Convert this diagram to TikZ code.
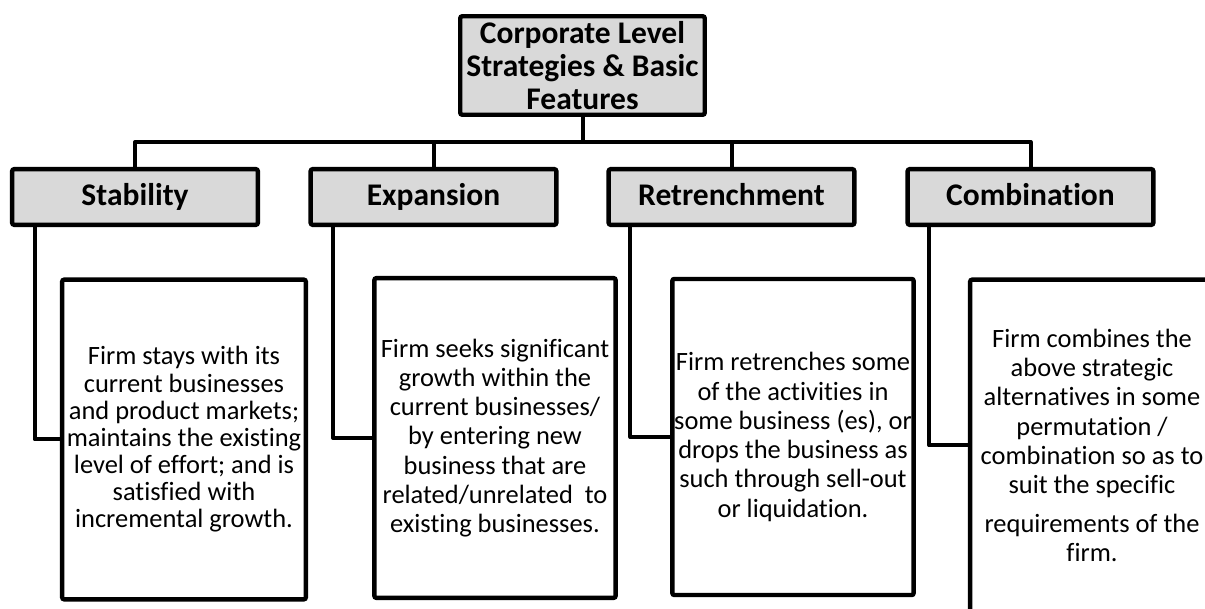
\documentclass[tikz,border=0pt]{standalone}
\usepackage{fontspec}
\setmainfont{Carlito}[Ligatures={NoCommon,NoContextual}]
\usepackage{tikz}
\usepackage{color}

\begin{document}
\begin{tikzpicture}[x=0.025cm,y=-0.025cm]
\definecolor{cb}{rgb}{0.0,0.0,0.0}
\definecolor{cfh}{rgb}{0.851,0.851,0.851}
\definecolor{cfd}{rgb}{1.0,1.0,1.0}
\definecolor{clh}{rgb}{0.0,0.0,0.0}
\tikzset{
  tbox/.style={draw=cb,fill=cfh,text=clh,line width=0.11cm,rounded corners=0.05cm,minimum width=6.11cm,minimum height=2.46cm,font=\fontsize{22.4}{23.6}\selectfont\bfseries,align=center,inner sep=0pt},
  hbox/.style={tbox,minimum width=6.14cm,minimum height=1.39cm,text height=0.56cm,text depth=0.11cm},
  dbox/.style={draw=cb,fill=cfd,text=clh,line width=0.11cm,rounded corners=0.05cm,minimum width=6.09cm,minimum height=7.99cm,font=\fontsize{18.8}{20.8}\selectfont,align=center,inner sep=0pt},
  link/.style={draw=cb,line width=0.1cm,line join=round},
}
%
\useasboundingbox (0,0) rectangle (1205,609);
\clip (0,0) rectangle (1205,609);
%
\node[tbox] (top) at (582.5,65.5) {Corporate Level\\Strategies \& Basic\\Features};
\node[hbox] (stab) at (135,197) {Stability};
\node[hbox] (expa) at (433.5,197) {Expansion};
\node[hbox] (retr) at (731.5,197) {Retrenchment};
\node[hbox] (comb) at (1030.5,197) {Combination};
%
\node[dbox,font=\fontsize{18.8}{19.3}\selectfont] (stabd) at (184,439.5) {Firm stays with its\\current businesses\\and product markets;\\maintains the existing\\level of effort; and is\\satisfied with\\incremental growth.};
\node[dbox,minimum width=6.03cm] (expad) at (495,438) {Firm seeks significant\\growth within the\\current businesses/\\by entering new\\business that are\\related/unrelated~ to\\existing businesses.};
\node[dbox,minimum width=6.03cm,minimum height=7.9cm] (retrd) at (793,437) {Firm retrenches some\\of the activities in\\some business (es), or\\drops the business as\\such through sell-out\\or liquidation.};
\node[dbox,minimum height=8.29cm] (combd) at (1092,445.5) {Firm combines the\\above strategic\\alternatives in some\\permutation /\\combination so as to\\suit the specific\\[7pt]requirements of the\\firm.};
%
\coordinate (bus) at (0,142);
\draw[link] (top.south) -- (top.south |- bus);
\draw[link] (stab.north) |- (comb.north |- bus) -- (comb.north);
\draw[link] (expa.north) -- (expa.north |- bus);
\draw[link] (retr.north) -- (retr.north |- bus);
%
\draw[link] ([xshift=0.62cm]stab.south west) |- (stabd.west);
\draw[link] ([xshift=0.62cm]expa.south west) |- (expad.west);
\draw[link] ([xshift=0.6cm]retr.south west) |- (retrd.west);
\draw[link] ([xshift=0.6cm]comb.south west) |- (combd.west);
%
\end{tikzpicture}
\end{document}
